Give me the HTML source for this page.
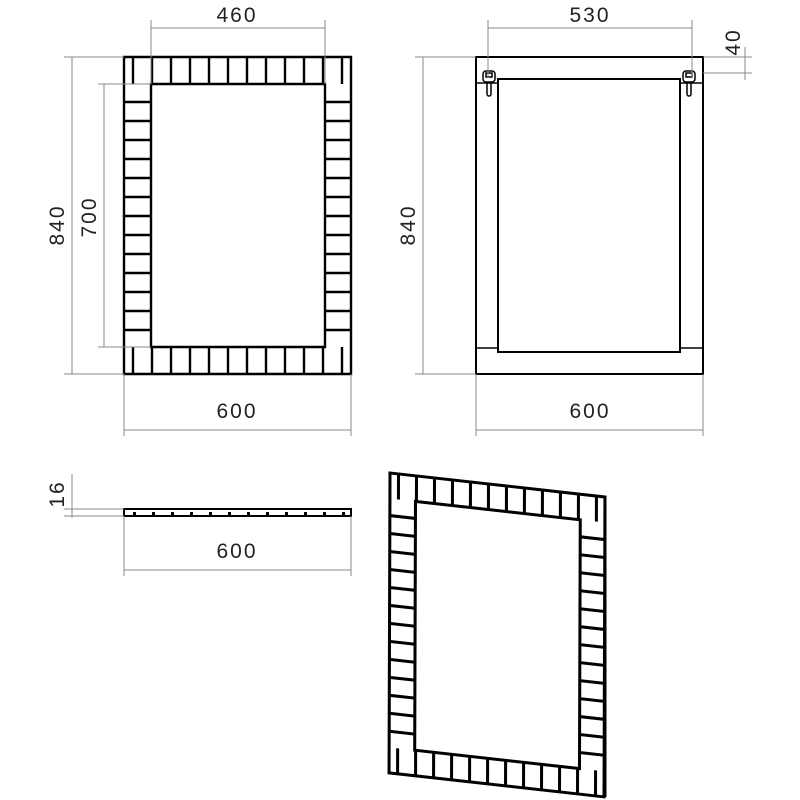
<!DOCTYPE html>
<html><head><meta charset="utf-8"><style>
html,body{margin:0;padding:0;background:#fff;width:800px;height:800px;overflow:hidden}
svg{display:block}
text{font-family:"Liberation Sans",sans-serif;font-size:21px;fill:#222;letter-spacing:2px}
.d{stroke:#888;stroke-width:1;fill:none}
.k{stroke:#000;fill:none}
</style></head><body>
<svg width="800" height="800" viewBox="0 0 800 800">
<defs>
<g id="fr" fill="none" stroke="#000">
<path d="M0 0H227V317H0Z"/>
<path d="M27 27H201V290H27Z"/>
<path d="
M9 0V27M28 0V27M47 0V27M66 0V27M85 0V27M104 0V27M123 0V27M142 0V27M161 0V27M180 0V27M199 0V27M218 0V27
M9 290V317M28 290V317M47 290V317M66 290V317M85 290V317M104 290V317M123 290V317M142 290V317M161 290V317M180 290V317M199 290V317M218 290V317
M0 45H27M0 64H27M0 83H27M0 102H27M0 121H27M0 140H27M0 159H27M0 178H27M0 197H27M0 216H27M0 235H27M0 254H27M0 273H27
M201 45H227M201 64H227M201 83H227M201 102H227M201 121H227M201 140H227M201 159H227M201 178H227M201 197H227M201 216H227M201 235H227M201 254H227M201 273H227"/>
</g>
</defs>

<!-- front view -->
<g stroke-width="2.4"><use href="#fr" x="124" y="57"/></g>
<path class="d" d="M151 20V84M325 20V84M151 28H325M64 57H124M64 374H124M72 57V374M98 84H151M98 347H151M104 84V347M124 374V436M351 374V436M124 430H351"/>
<text x="237" y="22" text-anchor="middle">460</text>
<text transform="translate(64,225) rotate(-90)" text-anchor="middle">840</text>
<text transform="translate(96,217) rotate(-90)" text-anchor="middle">700</text>
<text x="237" y="418" text-anchor="middle">600</text>

<!-- back view -->
<rect class="k" x="476" y="57" width="227" height="317" stroke-width="2"/>
<rect class="k" x="498" y="79" width="182" height="273" stroke-width="2"/>
<path class="k" stroke-width="1.5" d="M476 83H498M680 83H703M476 348H498M680 348H703"/>
<g class="k" stroke-width="1.5">
<rect x="483" y="71" width="12" height="11" rx="3"/><rect x="486" y="73" width="6" height="4"/>
<path d="M487 82v12a2 2 0 0 0 4 0v-12"/>
<rect x="683" y="71" width="12" height="11" rx="3"/><rect x="686" y="73" width="6" height="4"/>
<path d="M687 82v12a2 2 0 0 0 4 0v-12"/>
</g>
<path class="d" d="M488 20V78M692 20V78M488 28H692M703 57H752M703 73H752M745 47V80M415 57H476M415 374H476M423 57V374M476 374V436M703 374V436M476 430H703"/>
<text x="590" y="22" text-anchor="middle">530</text>
<text transform="translate(740,42) rotate(-90)" text-anchor="middle">40</text>
<text transform="translate(415,225) rotate(-90)" text-anchor="middle">840</text>
<text x="590" y="418" text-anchor="middle">600</text>

<!-- side view -->
<rect class="k" x="124" y="509" width="227" height="7" stroke-width="2"/>
<path class="k" stroke-width="1.5" d="M132 509h15M322 509h15"/>
<g fill="#000"><rect x="133" y="512" width="3" height="3"/><rect x="152" y="512" width="3" height="3"/><rect x="171" y="512" width="3" height="3"/><rect x="190" y="512" width="3" height="3"/><rect x="209" y="512" width="3" height="3"/><rect x="228" y="512" width="3" height="3"/><rect x="247" y="512" width="3" height="3"/><rect x="266" y="512" width="3" height="3"/><rect x="285" y="512" width="3" height="3"/><rect x="304" y="512" width="3" height="3"/><rect x="323" y="512" width="3" height="3"/><rect x="342" y="512" width="3" height="3"/></g>
<path class="d" d="M64 509H124M64 516H124M72 474V518M124 516V576M351 516V576M124 570H351"/>
<text transform="translate(64,494) rotate(-90)" text-anchor="middle">16</text>
<text x="237" y="558" text-anchor="middle">600</text>

<!-- perspective -->
<g transform="matrix(0.947,0.1057,-0.003,0.946,390,473)" stroke-width="3.2">
<use href="#fr"/>
</g>
<path stroke="#000" stroke-width="3" d="M605 497V797"/>
</svg>
</body></html>
